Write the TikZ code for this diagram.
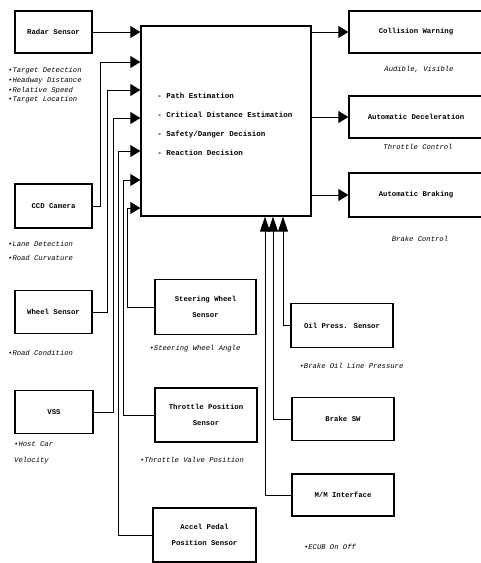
\documentclass[tikz,border=0pt]{standalone}
\usepackage{fontspec}
\setmainfont{Liberation Mono}
\usetikzlibrary{arrows.meta}
\begin{document}
\begin{tikzpicture}[x=1pt,y=-1pt,
  box/.style={draw,line width=1.3pt,inner sep=0pt,font=\bfseries\fontsize{7.3}{16}\selectfont,align=center},
  desc/.style={inner sep=0pt,font=\itshape\fontsize{7.2}{9.7}\selectfont,align=left},
  link/.style={line width=1pt},
  arr/.style={link,-{Triangle[length=10pt,width=12pt]}},
  uarr/.style={link,-{Triangle[length=15pt,width=10pt]}}]
\useasboundingbox (0,0) rectangle (481,563);
% main block
\node[box,minimum width=170pt,minimum height=190pt] (main) at (226,121) {};
\node[inner sep=0pt,font=\bfseries\fontsize{7.5}{19}\selectfont,align=left] (maintext) at (225,124.5)
  {- Path Estimation\\- Critical Distance Estimation\\- Safety/Danger Decision\\- Reaction Decision};
% left sensors
\node[box,minimum width=77pt,minimum height=42pt] (radar) at (53.5,32) {Radar Sensor};
\node[box,minimum width=77pt,minimum height=44pt] (ccd) at (53.5,206) {CCD Camera};
\node[box,minimum width=77pt,minimum height=43pt] (wheel) at (53.5,312) {Wheel Sensor};
\node[box,minimum width=78pt,minimum height=43pt] (vss) at (54,412) {VSS};
\node[box,minimum width=101pt,minimum height=55pt] (steer) at (205.5,307) {Steering Wheel\\Sensor};
\node[box,minimum width=102pt,minimum height=54pt] (throttle) at (206,415) {Throttle Position\\Sensor};
\node[box,minimum width=103pt,minimum height=54pt] (accel) at (204.5,535) {Accel Pedal\\Position Sensor};
% bottom sensors
\node[box,minimum width=102pt,minimum height=44pt] (oil) at (342,325.5) {Oil Press. Sensor};
\node[box,minimum width=102pt,minimum height=43pt] (brakesw) at (343,419) {Brake SW};
\node[box,minimum width=102pt,minimum height=42pt] (mm) at (343,495) {M/M Interface};
% outputs
\node[box,minimum width=134pt,minimum height=42pt] (cw) at (416,32) {Collision Warning};
\node[box,minimum width=134pt,minimum height=42pt] (ad) at (416,117) {Automatic Deceleration};
\node[box,minimum width=134pt,minimum height=44pt] (ab) at (416,195) {Automatic Braking};
% descriptions
\node[desc,anchor=west] (radard) at (8,85.5) {•Target Detection\\•Headway Distance\\•Relative Speed\\•Target Location};
\node[desc,anchor=west,font=\itshape\fontsize{7.2}{14}\selectfont] (ccdd) at (8,251) {•Lane Detection\\•Road Curvature};
\node[desc,anchor=west] (wheeld) at (8,353) {•Road Condition};
\node[desc,anchor=west,font=\itshape\fontsize{7.2}{16}\selectfont] (vssd) at (14,453) {•Host Car\\Velocity};
\node[desc] (steerd) at (195,349) {•Steering Wheel Angle};
\node[desc] (throttled) at (192,460) {•Throttle Valve Position};
\node[desc] (oild) at (351.5,366) {•Brake Oil Line Pressure};
\node[desc] (mmd) at (330,547) {•ECUB On Off};
\node[desc] (cwd) at (419,70) {Audible, Visible};
\node[desc] (add) at (418,147) {Throttle Control};
\node[desc] (abd) at (420,239) {Brake Control};
% inputs to main block
\draw[arr] (radar.east) -- (radar.east -| main.west);
\draw[arr] (ccd.east) -| (100,62) -- (main.west |- 0,62);
\draw[arr] (wheel.east) -| (107,90) -- (main.west |- 0,90);
\draw[arr] (vss.east) -| (113,118) -- (main.west |- 0,118);
\draw[arr] (accel.west) -| (118,151) -- (main.west |- 0,151);
\draw[arr] (throttle.west) -| (123,180) -- (main.west |- 0,180);
\draw[arr] (steer.west) -| (127,208) -- (main.west |- 0,208);
\draw[uarr] (mm.west) -| (main.south -| 265,0);
\draw[uarr] (brakesw.west) -| (main.south -| 273,0);
\draw[uarr] (oil.west) -| (main.south -| 283,0);
% outputs
\draw[arr] (main.east |- cw.west) -- (cw.west);
\draw[arr] (main.east |- ad.west) -- (ad.west);
\draw[arr] (main.east |- ab.west) -- (ab.west);
\end{tikzpicture}
\end{document}
